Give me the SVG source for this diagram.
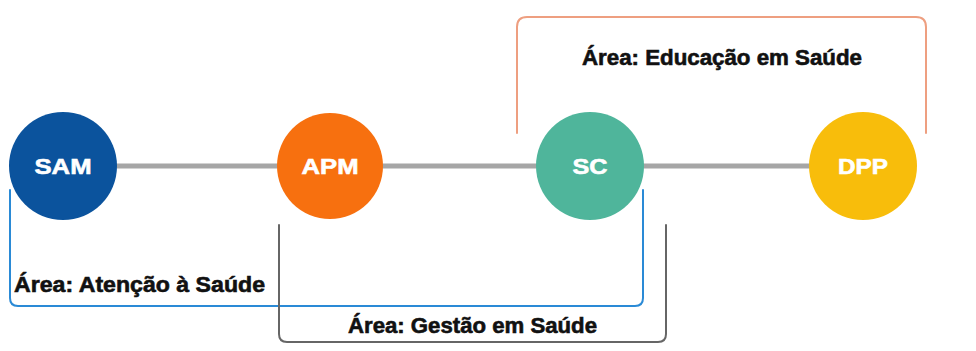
<svg xmlns="http://www.w3.org/2000/svg" width="976" height="351" viewBox="0 0 976 351">
<style>
.lbl{font-family:"Liberation Sans",Arial,sans-serif;font-weight:bold;font-size:22px;fill:#ffffff;stroke:#ffffff;stroke-width:0.6;text-anchor:middle}
.area{font-family:"Liberation Sans",Arial,sans-serif;font-weight:bold;font-size:22px;fill:#111111;stroke:#111111;stroke-width:0.6}
.br{fill:none;stroke-width:2;stroke-linecap:round;stroke-linejoin:round}
</style>
<rect width="976" height="351" fill="#ffffff"/>
<g id="connectors">
<line x1="63" y1="166" x2="863" y2="166" stroke="#a6a6a6" stroke-width="5"/>
<path class="br" d="M517,133 L517,27 Q517,17 527,17 L916,17 Q926,17 926,27 L926,133" stroke="#ee9f80"/>
<path class="br" d="M10,190 L10,298 Q10,306 18,306 L635,306 Q643,306 643,298 L643,190" stroke="#2a8ad6"/>
<path class="br" d="M279,225 L279,334 Q279,342 287,342 L658,342 Q666,342 666,334 L666,225" stroke="#666666"/>
</g>
<g id="node-sam">
<circle cx="63" cy="166" r="54" fill="#0b539d"/>
<text class="lbl" x="63" y="174" textLength="57" lengthAdjust="spacingAndGlyphs">SAM</text>
</g>
<g id="node-apm">
<circle cx="330" cy="166" r="53" fill="#f7700f"/>
<text class="lbl" x="330" y="174" textLength="57" lengthAdjust="spacingAndGlyphs">APM</text>
</g>
<g id="node-sc">
<circle cx="590" cy="166" r="54" fill="#4fb59b"/>
<text class="lbl" x="590" y="174" textLength="35" lengthAdjust="spacingAndGlyphs">SC</text>
</g>
<g id="node-dpp">
<circle cx="863" cy="166" r="54" fill="#f8bd0b"/>
<text class="lbl" x="863" y="174" textLength="50" lengthAdjust="spacingAndGlyphs">DPP</text>
</g>
<g id="labels">
<text class="area" x="14" y="292" textLength="251" lengthAdjust="spacingAndGlyphs">Área: Atenção à Saúde</text>
<text class="area" x="348" y="333" textLength="249" lengthAdjust="spacingAndGlyphs">Área: Gestão em Saúde</text>
<text class="area" x="582" y="65" textLength="280" lengthAdjust="spacingAndGlyphs">Área: Educação em Saúde</text>
</g>
</svg>
